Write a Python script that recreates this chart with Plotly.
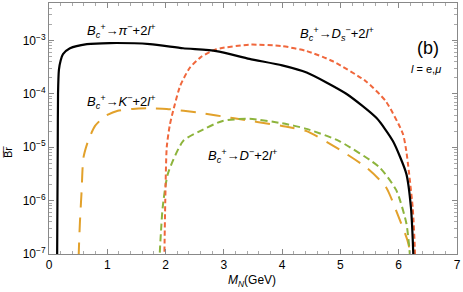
import plotly.graph_objects as go

# ---- data ----
pi_x = [0.135, 0.14, 0.145, 0.15, 0.155, 0.17, 0.2, 0.24, 0.36, 0.65, 1.04, 1.73, 2.3, 2.87, 3.44, 4.0, 4.42, 5.1, 5.62, 5.9, 6.13, 6.21, 6.25, 6.27]
pi_y = [1e-8, 1e-7, 1e-6, 1e-5, 1e-4, 2.8e-4, 4.2e-4, 5.5e-4, 7.1e-4, 8.5e-4, 8.9e-4, 8.5e-4, 7.1e-4, 6.3e-4, 4.5e-4, 3.4e-4, 2.5e-4, 1.0e-4, 3.5e-5, 1.3e-5, 3.2e-6, 7.4e-7, 1e-7, 1e-8]

ds_x = [1.97, 1.98, 1.995, 2.02, 2.07, 2.13, 2.25, 2.41, 2.6, 2.87, 3.44, 4.0, 4.42, 4.86, 5.44, 5.78, 6.07, 6.13, 6.24, 6.28, 6.29]
ds_y = [1e-8, 1e-7, 1e-6, 1e-5, 2.5e-5, 4.8e-5, 1.4e-4, 3.0e-4, 4.8e-4, 6.8e-4, 8.3e-4, 7.8e-4, 6.3e-4, 4.1e-4, 1.7e-4, 7.2e-5, 1.8e-5, 8.5e-6, 7.4e-7, 1e-7, 1e-8]

k_x = [0.5, 0.51, 0.53, 0.56, 0.59, 0.67, 0.79, 0.96, 1.18, 1.44, 1.7, 2.02, 2.59, 3.15, 4.0, 4.42, 4.93, 5.44, 5.78, 6.0, 6.15, 6.2, 6.21]
k_y = [1e-8, 1e-7, 3.8e-7, 1.55e-6, 6.3e-6, 1.3e-5, 2.5e-5, 3.8e-5, 4.8e-5, 5.2e-5, 5.35e-5, 5.2e-5, 4.4e-5, 3.5e-5, 2.5e-5, 2.0e-5, 9.8e-6, 4.2e-6, 1.8e-6, 4.9e-7, 1.8e-7, 1e-7, 1e-8]

d_x = [1.89, 1.9, 1.92, 1.95, 2.04, 2.3, 2.59, 2.98, 3.44, 4.0, 4.42, 4.98, 5.67, 5.96, 6.13, 6.19, 6.21]
d_y = [1e-8, 1e-7, 2.5e-7, 7.4e-7, 3.2e-6, 1.3e-5, 2.0e-5, 3.1e-5, 3.4e-5, 2.8e-5, 2.2e-5, 1.3e-5, 4.2e-6, 1.55e-6, 3.8e-7, 1e-7, 1e-8]

y_tickvals = [1e-7, 1e-6, 1e-5, 1e-4, 1e-3]
y_ticktext = ["10<sup>−7</sup>", "10<sup>−6</sup>", "10<sup>−5</sup>", "10<sup>−4</sup>", "10<sup>−3</sup>"]
x_tickvals = [0, 1, 2, 3, 4, 5, 6, 7]

FONT = "Liberation Sans, Arial, sans-serif"

fig = go.Figure()
fig.add_trace(go.Scatter(x=k_x, y=k_y, mode="lines", line=dict(color="#E2A12B", width=2, dash="15px,10px", shape="spline", smoothing=0.6)))
fig.add_trace(go.Scatter(x=d_x, y=d_y, mode="lines", line=dict(color="#8DB43C", width=2, dash="7px,4px", shape="spline", smoothing=0.6)))
fig.add_trace(go.Scatter(x=ds_x, y=ds_y, mode="lines", line=dict(color="#F0673C", width=2, dash="5px,3px", shape="spline", smoothing=0.6)))
fig.add_trace(go.Scatter(x=pi_x, y=pi_y, mode="lines", line=dict(color="black", width=2.2, shape="spline", smoothing=0.6)))

axis_common = dict(
    showgrid=False, zeroline=False, showline=True, linecolor="#888888", linewidth=1,
    mirror="allticks", ticks="inside", ticklen=5, tickcolor="#888888",
    tickfont=dict(family=FONT, size=12, color="black"),
)
fig.update_xaxes(range=[0, 7], tickvals=x_tickvals,
                 minor=dict(dtick=0.2, ticks="inside", ticklen=3, tickcolor="#aaaaaa"),
                 **axis_common)
fig.update_yaxes(type="log", range=[-7, -2.301], tickvals=y_tickvals, ticktext=y_ticktext,
                 minor=dict(ticks="inside", ticklen=3, tickcolor="#aaaaaa", tickvals=[m * 10**e for e in range(-7, -2) for m in range(2, 10)]),
                 **axis_common)

W, H = 463, 292
L, R, T, B = 49, 4, 2, 38
pw, ph = W - L - R, H - T - B

def px(xp, yp, text, size=13, angle=0):
    fig.add_annotation(x=(xp - L) / pw, y=1 - (yp - T) / ph, xref="paper", yref="paper", text=text,
                       showarrow=False, textangle=angle,
                       font=dict(family=FONT, size=size, color="black"), xanchor="center", yanchor="middle")

px(122, 30, "<i>B<sub>c</sub><sup>+</sup></i>→<i>π</i><sup>−</sup>+2<i>l</i><sup>+</sup>")
px(122, 101, "<i>B<sub>c</sub><sup>+</sup></i>→<i>K</i><sup>−</sup>+2<i>l</i><sup>+</sup>")
px(338, 33, "<i>B<sub>c</sub><sup>+</sup></i>→<i>D<sub>s</sub></i><sup>−</sup>+2<i>l</i><sup>+</sup>")
px(243, 156, "<i>B<sub>c</sub><sup>+</sup></i>→<i>D</i><sup>−</sup>+2<i>l</i><sup>+</sup>")
px(430, 47, "(b)", 18)
px(428, 68, "<i>l</i> = e,<i>μ</i>", 11)
px(8, 152, "B\u0305r\u0305", 11, -90)
px(253, 281, "<i>M<sub>N</sub></i>(GeV)", 12)

fig.update_layout(width=W, height=H, margin=dict(l=L, r=R, t=T, b=B), showlegend=False,
                  plot_bgcolor="white", paper_bgcolor="white")
fig.write_html("out.html", config={"displayModeBar": False},
               post_script="document.body.style.margin='0';document.body.style.padding='0';")
